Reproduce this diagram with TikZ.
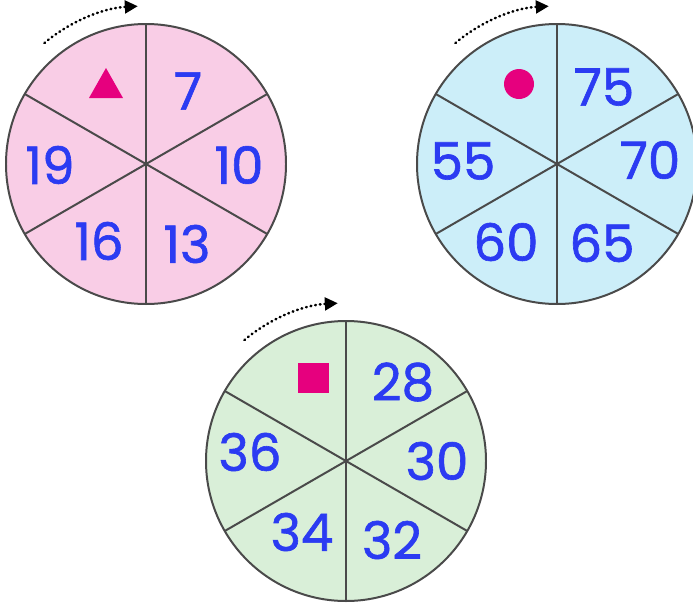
\documentclass[tikz,border=0pt]{standalone}
\usepackage{fontspec}
\setmainfont{Poppins}
\usetikzlibrary{arrows.meta}
\definecolor{wheelpink}{HTML}{F9CDE6}
\definecolor{wheelblue}{HTML}{CCEEF9}
\definecolor{wheelgreen}{HTML}{D9EFD8}
\definecolor{rimgray}{HTML}{4A4A4A}
\definecolor{numblue}{HTML}{2B3BF2}
\definecolor{markpink}{HTML}{E6007E}
\begin{document}
\begin{tikzpicture}[x=0.03cm,y=-0.03cm,
  num/.style={text=numblue,font=\fontsize{44}{44}\selectfont\addfontfeature{FakeBold=1.2},inner sep=0pt},
  rim/.style={draw=rimgray,line width=1.7pt},
  spin/.style={line width=2.2pt,line cap=round,dash pattern=on 0.6pt off 3.4pt,-{Triangle[length=11pt,width=11pt]}}]
\useasboundingbox (0,0) rectangle (693,607);
% pink wheel
\begin{scope}[shift={(146,164)}]
\fill[wheelpink] (0,0) circle (140);
\foreach \a in {30,90,...,330} {
\draw[rim] (0,0) -- (\a:140);
}
\draw[rim] (0,0) circle (140);
\fill[markpink] (-57,-66) -- (-23,-66) -- (-40,-96) -- cycle;
\node[num] (p7) at (42,-73) {7};
\node[num] (p10) at (93,1) {10};
\node[num] (p13) at (41,80) {13};
\node[num] (p16) at (-47,77) {16};
\node[num] (p19) at (-96,1) {19};
\coordinate (pinkfrom) at (-130:158);
\draw[spin] (pinkfrom) arc[start angle=-130,end angle=-93,radius=158];
\end{scope}
% blue wheel
\begin{scope}[shift={(557,164)}]
\fill[wheelblue] (0,0) circle (140);
\foreach \a in {30,90,...,330} {
\draw[rim] (0,0) -- (\a:140);
}
\draw[rim] (0,0) circle (140);
\fill[markpink] (-38,-80) circle (15);
\node[num] (b75) at (47,-77) {75};
\node[num] (b70) at (93,-4) {70};
\node[num] (b65) at (45,79) {65};
\node[num] (b60) at (-51,78) {60};
\node[num] (b55) at (-94,-3) {55};
\coordinate (bluefrom) at (-130:158);
\draw[spin] (bluefrom) arc[start angle=-130,end angle=-93,radius=158];
\end{scope}
% green wheel
\begin{scope}[shift={(346,461)}]
\fill[wheelgreen] (0,0) circle (140);
\foreach \a in {30,90,...,330} {
\draw[rim] (0,0) -- (\a:140);
}
\draw[rim] (0,0) circle (140);
\fill[markpink] (-48,-98) rectangle (-17,-68);
\node[num] (g28) at (57,-79) {28};
\node[num] (g30) at (91,0) {30};
\node[num] (g32) at (46,79) {32};
\node[num] (g34) at (-44,71) {34};
\node[num] (g36) at (-96,-9) {36};
\coordinate (greenfrom) at (-130:158);
\draw[spin] (greenfrom) arc[start angle=-130,end angle=-93,radius=158];
\end{scope}
\end{tikzpicture}
\end{document}
